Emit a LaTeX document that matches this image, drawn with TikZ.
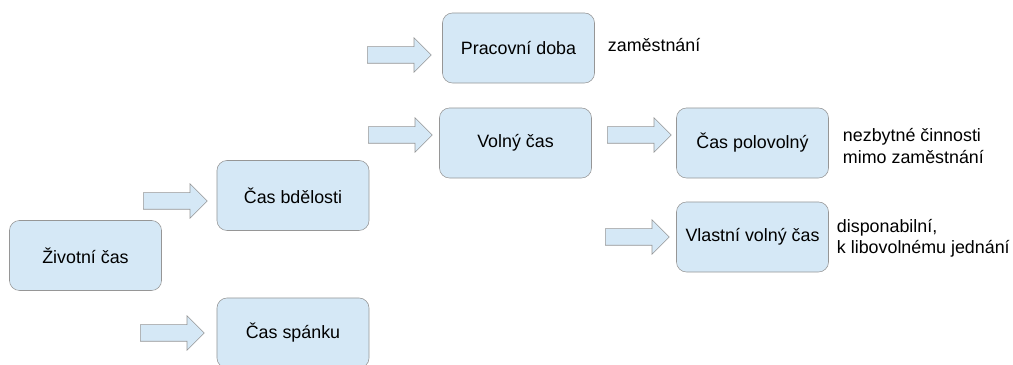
\documentclass[tikz,border=0pt]{standalone}
\usepackage{fontspec}
\setmainfont{Liberation Sans}
\usetikzlibrary{shapes.arrows}
\definecolor{boxfill}{RGB}{213,232,246}
\definecolor{boxline}{RGB}{150,150,150}

\begin{document}
\begin{tikzpicture}[x=0.025cm,y=-0.025cm,
		box/.style={draw=boxline,fill=boxfill,rounded corners=0.25cm,minimum width=3.8cm,minimum height=1.75cm,font=\fontsize{12.7}{15}\selectfont},
		blockarrow/.style={single arrow,draw=boxline,fill=boxfill,anchor=tail,minimum height=1.6cm,inner sep=0.2cm,single arrow head extend=0.225cm,single arrow head indent=0pt},
		note/.style={anchor=west,align=left,font=\fontsize{12.7}{15}\selectfont}]
				\useasboundingbox (0,0) rectangle (1013,365);
				\node[box] (zivotni) at (85.5,255.5) {Životní čas};
				\node[box] (bdelost) at (293,195.5) {Čas bdělosti};
				\node[box] (spanek) at (293,333) {Čas spánku};
				\node[box] (pracovni) at (518.5,48) {Pracovní doba};
				\node[box] (volny) at (515.5,143) {Volný čas};
				\node[box] (polovolny) at (752.5,143) {Čas polovolný};
				\node[box] (vlastni) at (752.5,237) {Vlastní volný čas};
				\node[blockarrow] (a1) at (143,201) {};
				\node[blockarrow] (a2) at (140,333) {};
				\node[blockarrow] (a3) at (367,55) {};
				\node[blockarrow] (a4) at (368,135) {};
				\node[blockarrow] (a5) at (607,135) {};
				\node[blockarrow] (a6) at (605,237) {};
				\node[note] (n1) at (603,45) {zaměstnání};
				\node[note] (n2) at (838,146) {nezbytné činnosti\\mimo zaměstnání};
				\node[note] (n3) at (832,238) {disponabilní,\\k libovolnému jednání};
			\end{tikzpicture}
\end{document}
